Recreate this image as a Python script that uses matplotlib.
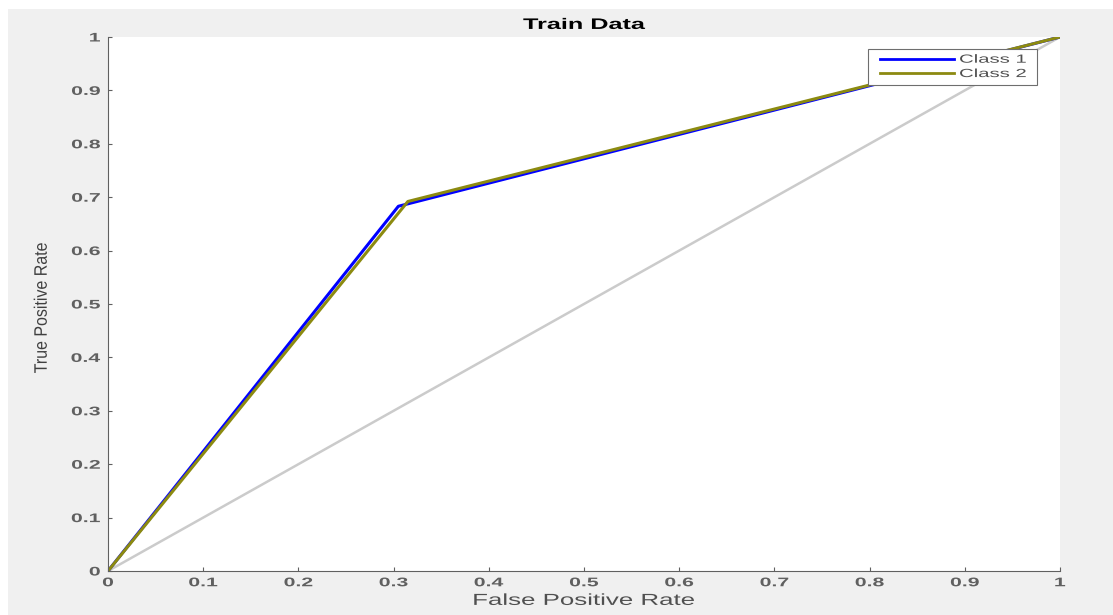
import numpy as np
import matplotlib
matplotlib.use("Agg")
from matplotlib import pyplot as plt
from matplotlib.patches import Rectangle
from matplotlib.patheffects import AbstractPathEffect
from matplotlib.transforms import Affine2D
from matplotlib.legend_handler import HandlerLine2D

# ROC points
fpr1 = [0, 0.305, 1]
tpr1 = [0, 0.683, 1]
fpr2 = [0, 0.315, 1]
tpr2 = [0, 0.692, 1]
ticks = [0, 0.1, 0.2, 0.3, 0.4, 0.5, 0.6, 0.7, 0.8, 0.9, 1]
ticklabels = ["0", "0.1", "0.2", "0.3", "0.4", "0.5", "0.6", "0.7", "0.8", "0.9", "1"]


class HStretch(AbstractPathEffect):
    # widen text horizontally (the reference text looks stretched)
    def __init__(self, sx, anchor="center"):
        super().__init__()
        self.sx = sx
        self.anchor = anchor

    def draw_path(self, renderer, gc, tpath, affine, rgbFace=None):
        ext = tpath.get_extents(affine)
        if self.anchor == "right":
            x0 = ext.x1
        elif self.anchor == "left":
            x0 = ext.x0
        else:
            x0 = (ext.x0 + ext.x1) / 2
        t = affine + Affine2D().translate(-x0, 0).scale(self.sx, 1).translate(x0, 0)
        renderer.draw_path(gc, tpath, t, rgbFace)


plt.rcParams['font.family'] = ['Liberation Sans', 'DejaVu Sans']

fig = plt.figure(figsize=(11.13, 6.15), dpi=100, facecolor="white")
fig.patches.append(Rectangle((8/1113, 0), 1, 1 - 9/615, transform=fig.transFigure,
                             facecolor="#f0f0f0", edgecolor="none", zorder=-10))
ax = fig.add_axes([108/1113, 44/615, 952/1113, 534/615])
ax.set_facecolor("white")

ax.plot([0, 1], [0, 1], color="#cbcbcb", linewidth=1.8)
ax.plot(fpr1, tpr1, color="blue", linewidth=2.2, label="Class 1")
ax.plot(fpr2, tpr2, color="#8c8a10", linewidth=2.2, label="Class 2")

ax.set_xlim(0, 1)
ax.set_ylim(0, 1)
ax.set_xticks(ticks)
ax.set_xticklabels(ticklabels)
ax.set_yticks(ticks)
ax.set_yticklabels(ticklabels)
for s in ["top", "right"]:
    ax.spines[s].set_visible(False)
for s in ["left", "bottom"]:
    ax.spines[s].set_color("#606060")
ax.tick_params(direction="in", length=3, color="#606060", labelcolor="#606060",
               labelsize=9)
ax.tick_params(axis="x", pad=4.5)
ax.tick_params(axis="y", pad=5.5)
for lab in ax.get_xticklabels():
    lab.set_fontweight("bold")
    lab.set_path_effects([HStretch(1.7, "center")])
for lab in ax.get_yticklabels():
    lab.set_fontweight("bold")
    lab.set_path_effects([HStretch(1.7, "right")])

t = ax.set_title("Train Data", fontsize=11, fontweight="bold", pad=5.8)
t.set_path_effects([HStretch(1.65)])
ax.set_xlabel("False Positive Rate", fontsize=11.5, color="#505050")
ax.xaxis.set_label_coords(0.5, -0.041)
ax.xaxis.label.set_path_effects([HStretch(1.62)])
ax.set_ylabel("True Positive Rate", fontsize=11.5, color="#404040")
ax.yaxis.set_label_coords(-0.062, 0.493)
ax.yaxis.label.set_path_effects([HStretch(1.13)])

leg = ax.legend(loc="upper left", bbox_to_anchor=(0.7983, 0.9139, 0.1775, 0.0637),
                mode="expand", borderaxespad=0, fontsize=8.5,
                fancybox=False, framealpha=1, edgecolor="#6e6e6e",
                handlelength=6.9, borderpad=0.4, labelspacing=0.2, handletextpad=0.45,
                handler_map={plt.Line2D: HandlerLine2D(xpad=0.6)})
leg.get_frame().set_linewidth(0.8)
for txt in leg.get_texts():
    txt.set_color("#505050")
    txt.set_path_effects([HStretch(1.72, "left")])
for ln in leg.get_lines():
    ln.set_linewidth(2)

fig.savefig("out.png", dpi=100, facecolor=fig.get_facecolor())
